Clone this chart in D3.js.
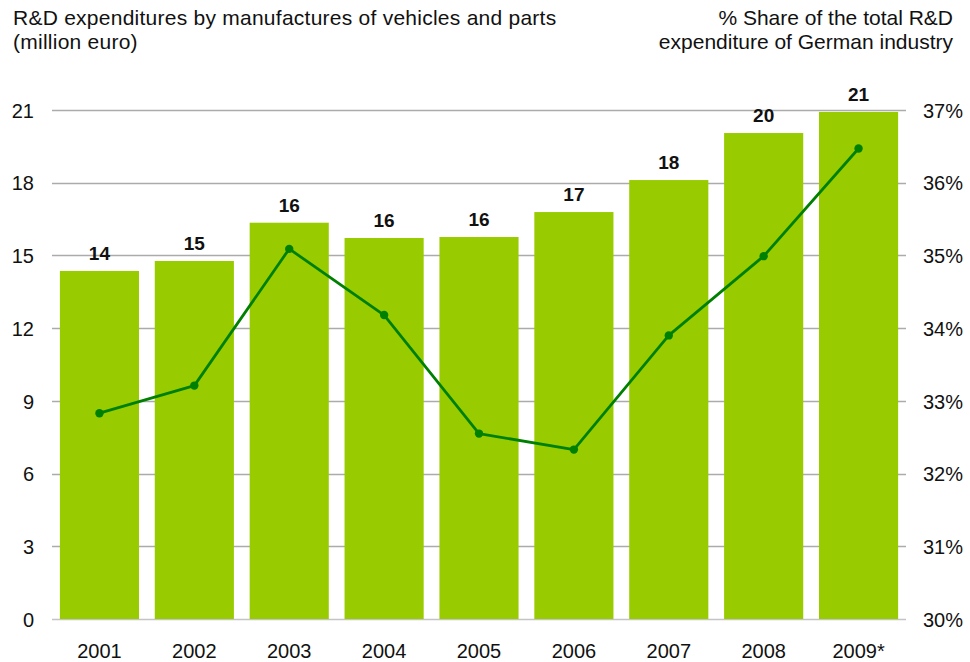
<!DOCTYPE html>
<html>
<head>
<meta charset="utf-8">
<script src="https://cdn.jsdelivr.net/npm/d3@7"></script>
<style>
  html, body { margin: 0; padding: 0; background: #fff; }
  svg { display: block; font-family: "Liberation Sans", Arial, sans-serif; }
</style>
</head>
<body>
<svg id="chart" width="970" height="662"></svg>
<script>
// R&D spending (million euro) and share of total German industry R&D (%)
const years = ["2001", "2002", "2003", "2004", "2005", "2006", "2007", "2008", "2009*"];
const spending = [14.36, 14.77, 16.35, 15.72, 15.76, 16.79, 18.11, 20.05, 20.92];
const spendingLabels = ["14", "15", "16", "16", "16", "17", "18", "20", "21"];
const sharePct = [32.83, 33.21, 35.09, 34.18, 32.55, 32.33, 33.90, 34.99, 36.47];
const leftTicks = [0, 3, 6, 9, 12, 15, 18, 21];
const rightTicks = [30, 31, 32, 33, 34, 35, 36, 37];
const leftTitle = ["R&D expenditures by manufactures of vehicles and parts", "(million euro)"];
const rightTitle = ["% Share of the total R&D", "expenditure of German industry"];

const svg = d3.select("#chart");
const plot = { left: 52, right: 906, top: 110, bottom: 619 };
const FONT = "'Liberation Sans', Arial, sans-serif";

const x = d3.scaleBand().domain(years).range([plot.left, plot.right])
  .paddingInner(0.166).paddingOuter(0.083);
const yL = d3.scaleLinear().domain([0, 21]).range([plot.bottom, plot.top]);
const yR = d3.scaleLinear().domain([30, 37]).range([plot.bottom, plot.top]);

// horizontal gridlines
svg.append("g").selectAll("line").data(leftTicks).join("line")
  .attr("x1", plot.left).attr("x2", plot.right)
  .attr("y1", d => Math.round(yL(d)) + 0.5).attr("y2", d => Math.round(yL(d)) + 0.5)
  .attr("stroke", d => d === 0 ? "#c4c4c4" : "#ababab").attr("stroke-width", 1.3);

// left axis (no domain line, no tick marks)
const axL = svg.append("g").attr("transform", `translate(${plot.left},0)`)
  .call(d3.axisLeft(yL).tickValues(leftTicks).tickSize(0).tickPadding(18));
axL.select(".domain").remove();
axL.selectAll("text").attr("font-size", 20).attr("fill", "#111")
  .attr("font-family", FONT).attr("dy", "0.36em");

// right axis
const axR = svg.append("g").attr("transform", `translate(${plot.right},0)`)
  .call(d3.axisRight(yR).tickValues(rightTicks).tickSize(0).tickPadding(17).tickFormat(d => d + "%"));
axR.select(".domain").remove();
axR.selectAll("text").attr("font-size", 20).attr("fill", "#111")
  .attr("font-family", FONT).attr("dy", "0.36em");

// bars
svg.append("g").selectAll("rect").data(years).join("rect")
  .attr("x", d => x(d)).attr("width", x.bandwidth())
  .attr("y", (d, i) => yL(spending[i]))
  .attr("height", (d, i) => yL(0) - yL(spending[i]))
  .attr("fill", "#99cc00");

// bar value labels
svg.append("g").selectAll("text").data(years).join("text")
  .attr("x", d => x(d) + x.bandwidth() / 2)
  .attr("y", (d, i) => yL(spending[i]) - 11)
  .attr("text-anchor", "middle").attr("font-size", 19).attr("font-weight", "bold").attr("fill", "#111")
  .text((d, i) => spendingLabels[i]);

// category axis
const axB = svg.append("g").attr("transform", `translate(0,${plot.bottom})`)
  .call(d3.axisBottom(x).tickSize(0).tickPadding(25));
axB.select(".domain").remove();
axB.selectAll("text").attr("font-size", 20).attr("fill", "#111")
  .attr("font-family", FONT);

// share line
const pts = years.map((d, i) => [x(d) + x.bandwidth() / 2, yR(sharePct[i])]);
svg.append("path").datum(pts)
  .attr("d", d3.line())
  .attr("fill", "none").attr("stroke", "#008000").attr("stroke-width", 2.8)
  .attr("stroke-linejoin", "round");
svg.append("g").selectAll("circle").data(pts).join("circle")
  .attr("cx", d => d[0]).attr("cy", d => d[1]).attr("r", 4.2).attr("fill", "#008000");

// titles
const tL = svg.append("text").attr("x", 13).attr("y", 25).attr("font-size", 21)
  .attr("letter-spacing", 0.25).attr("fill", "#111");
leftTitle.forEach((s, i) => tL.append("tspan").attr("x", 13).attr("dy", i ? 24 : 0).text(s));
const tR = svg.append("text").attr("x", 953).attr("y", 25).attr("font-size", 21).attr("fill", "#111")
  .attr("text-anchor", "end");
rightTitle.forEach((s, i) => tR.append("tspan").attr("x", 953).attr("dy", i ? 24 : 0).text(s));
</script>
</body>
</html>
